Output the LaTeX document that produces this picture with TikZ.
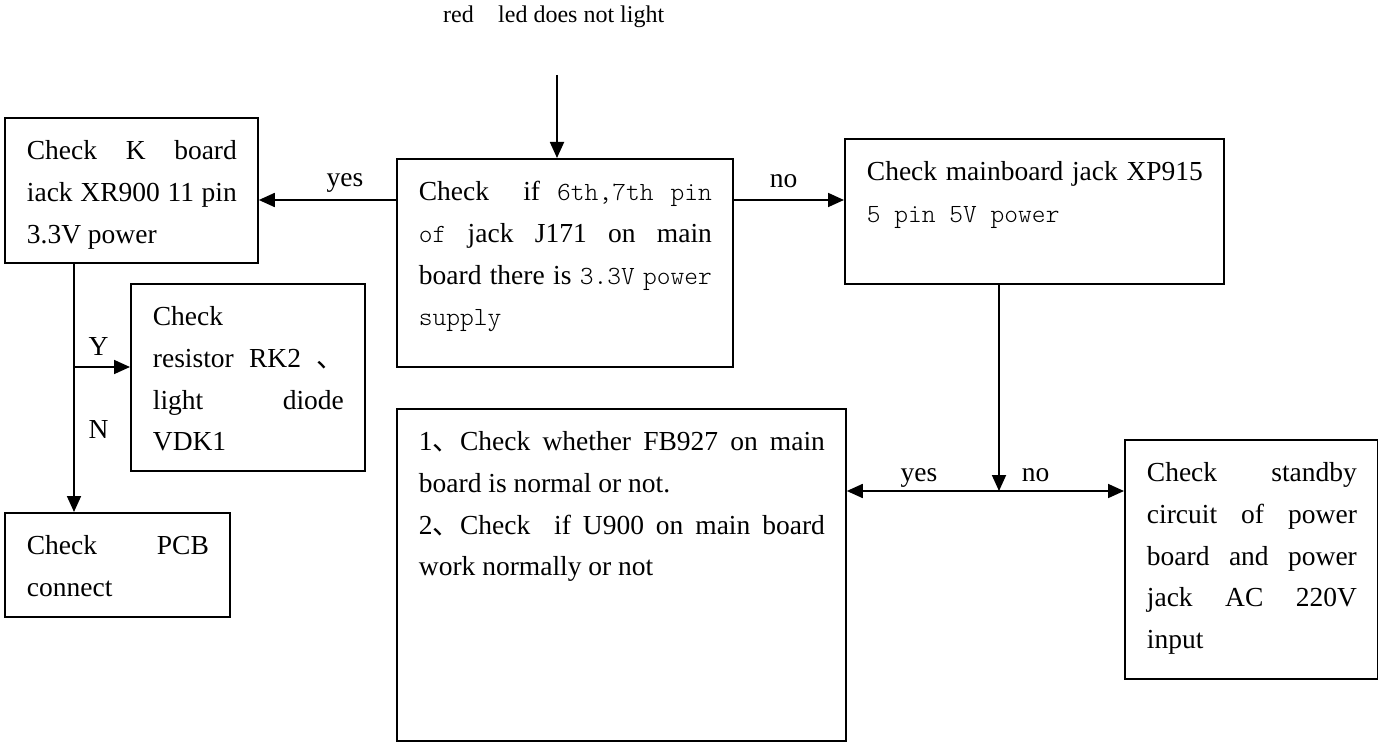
\documentclass[tikz,border=0pt]{standalone}
\usepackage{fontspec}
\setmainfont{Liberation Serif}
\newfontfamily\sunmono[Scale=0.953]{Latin Modern Mono Light}
\newfontfamily\cjkfont{Noto Sans CJK SC}
\usetikzlibrary{arrows.meta}

% mono-spaced runs and the ideographic comma
\newcommand\ms[1]{{\sunmono #1}}
\newcommand\dun{{\cjkfont 、}}

% a box body: fixed width and height, lines hung from the top
\newcommand\panel[3]{\vbox to #2{\hsize=#1\relax\parindent=0pt\kern22pt\relax#3\vfil}}
% a justified line and a flush-left line
\newcommand\jl[1]{\hbox to\hsize{\hskip22pt\vrule width0pt height20pt depth0pt\relax
  {\spaceskip=0pt plus 1fil\relax\xspaceskip=\spaceskip #1}\hskip21pt}}
\newcommand\rl[1]{\hbox to\hsize{\hskip22pt\vrule width0pt height20pt depth0pt\relax
  #1\hfil\hskip21pt}}

\begin{document}
\begin{tikzpicture}[x=1pt,y=-1pt,
  txt/.style={font=\fontsize{27.5pt}{41.6pt}\selectfont},
  panelbox/.style={txt,draw,line width=1.8pt,inner sep=0pt,anchor=north west},
  lbl/.style={txt,inner sep=0pt,anchor=base},
  conn/.style={line width=1.8pt},
  arr/.style={conn,-{Triangle[length=16pt,width=14pt]}}]
\useasboundingbox (0,0) rectangle (1378,743);

% title
\node[font=\fontsize{24pt}{28pt}\selectfont,inner sep=0pt,anchor=base west] (title)
  at (443,23) {red\hspace*{24.4pt}led does not light};

% boxes
\node[panelbox] (A) at (4,117) {\panel{253pt}{145pt}{%
  \jl{Check K board}
  \jl{iack XR900 11 pin}
  \rl{3.3V power}}};

\node[panelbox] (B) at (396,158) {\panel{336pt}{208pt}{%
  \jl{Check\ \ if \ms{6th,7th} \ms{pin}}
  \jl{\ms{of} jack J171 on main}
  \jl{board there is \ms{3.3V} \ms{power}}
  \rl{\ms{supply}}}};

\node[panelbox] (C) at (844,138) {\panel{379pt}{145pt}{%
  \jl{Check mainboard jack XP915}
  \rl{\ms{5 pin 5V power}}}};

\node[panelbox] (D) at (130,283) {\panel{234pt}{187pt}{%
  \rl{Check}
  \jl{resistor RK2 \dun}
  \jl{light diode}
  \rl{VDK1}}};

\node[panelbox] (E) at (4,512) {\panel{225pt}{104pt}{%
  \jl{Check PCB}
  \rl{connect}}};

\node[panelbox] (F) at (396,408) {\panel{449pt}{332pt}{%
  \jl{1\dun Check whether FB927 on main}
  \rl{board is normal or not.}
  \jl{2\dun Check\ \ if U900 on main board}
  \rl{work normally or not}}};

\node[panelbox] (G) at (1124,439) {\panel{253pt}{239pt}{%
  \jl{Check standby}
  \jl{circuit of power}
  \jl{board and power}
  \jl{jack AC 220V}
  \rl{input}}};

% branch labels
\node[lbl] (lyes) at (345,187) {yes};
\node[lbl] (lno) at (783.5,188) {no};
\node[lbl] (lY) at (98.5,355) {Y};
\node[lbl] (lN) at (98.5,438) {N};
\node[lbl] (lyes2) at (919,481) {yes};
\node[lbl] (lno2) at (1035.5,481) {no};

% connectors
\coordinate (s) at (557,75);
\coordinate (row1) at (0,200);
\coordinate (J) at (999,491);
\coordinate (K) at (74,367);

\draw[arr] (s) -- (s |- B.north);
\draw[arr] (B.west |- row1) -- (A.east |- row1);
\draw[arr] (B.east |- row1) -- (C.west |- row1);
\draw[arr] (C.south -| J) -- (J);
\draw[arr] (J) -- (J -| F.east);
\draw[arr] (J) -- (J -| G.west);
\draw[conn] (A.south -| K) -- (K);
\draw[arr] (K) -- (K -| D.west);
\draw[arr] (K) -- (K |- E.north);
\end{tikzpicture}
\end{document}
